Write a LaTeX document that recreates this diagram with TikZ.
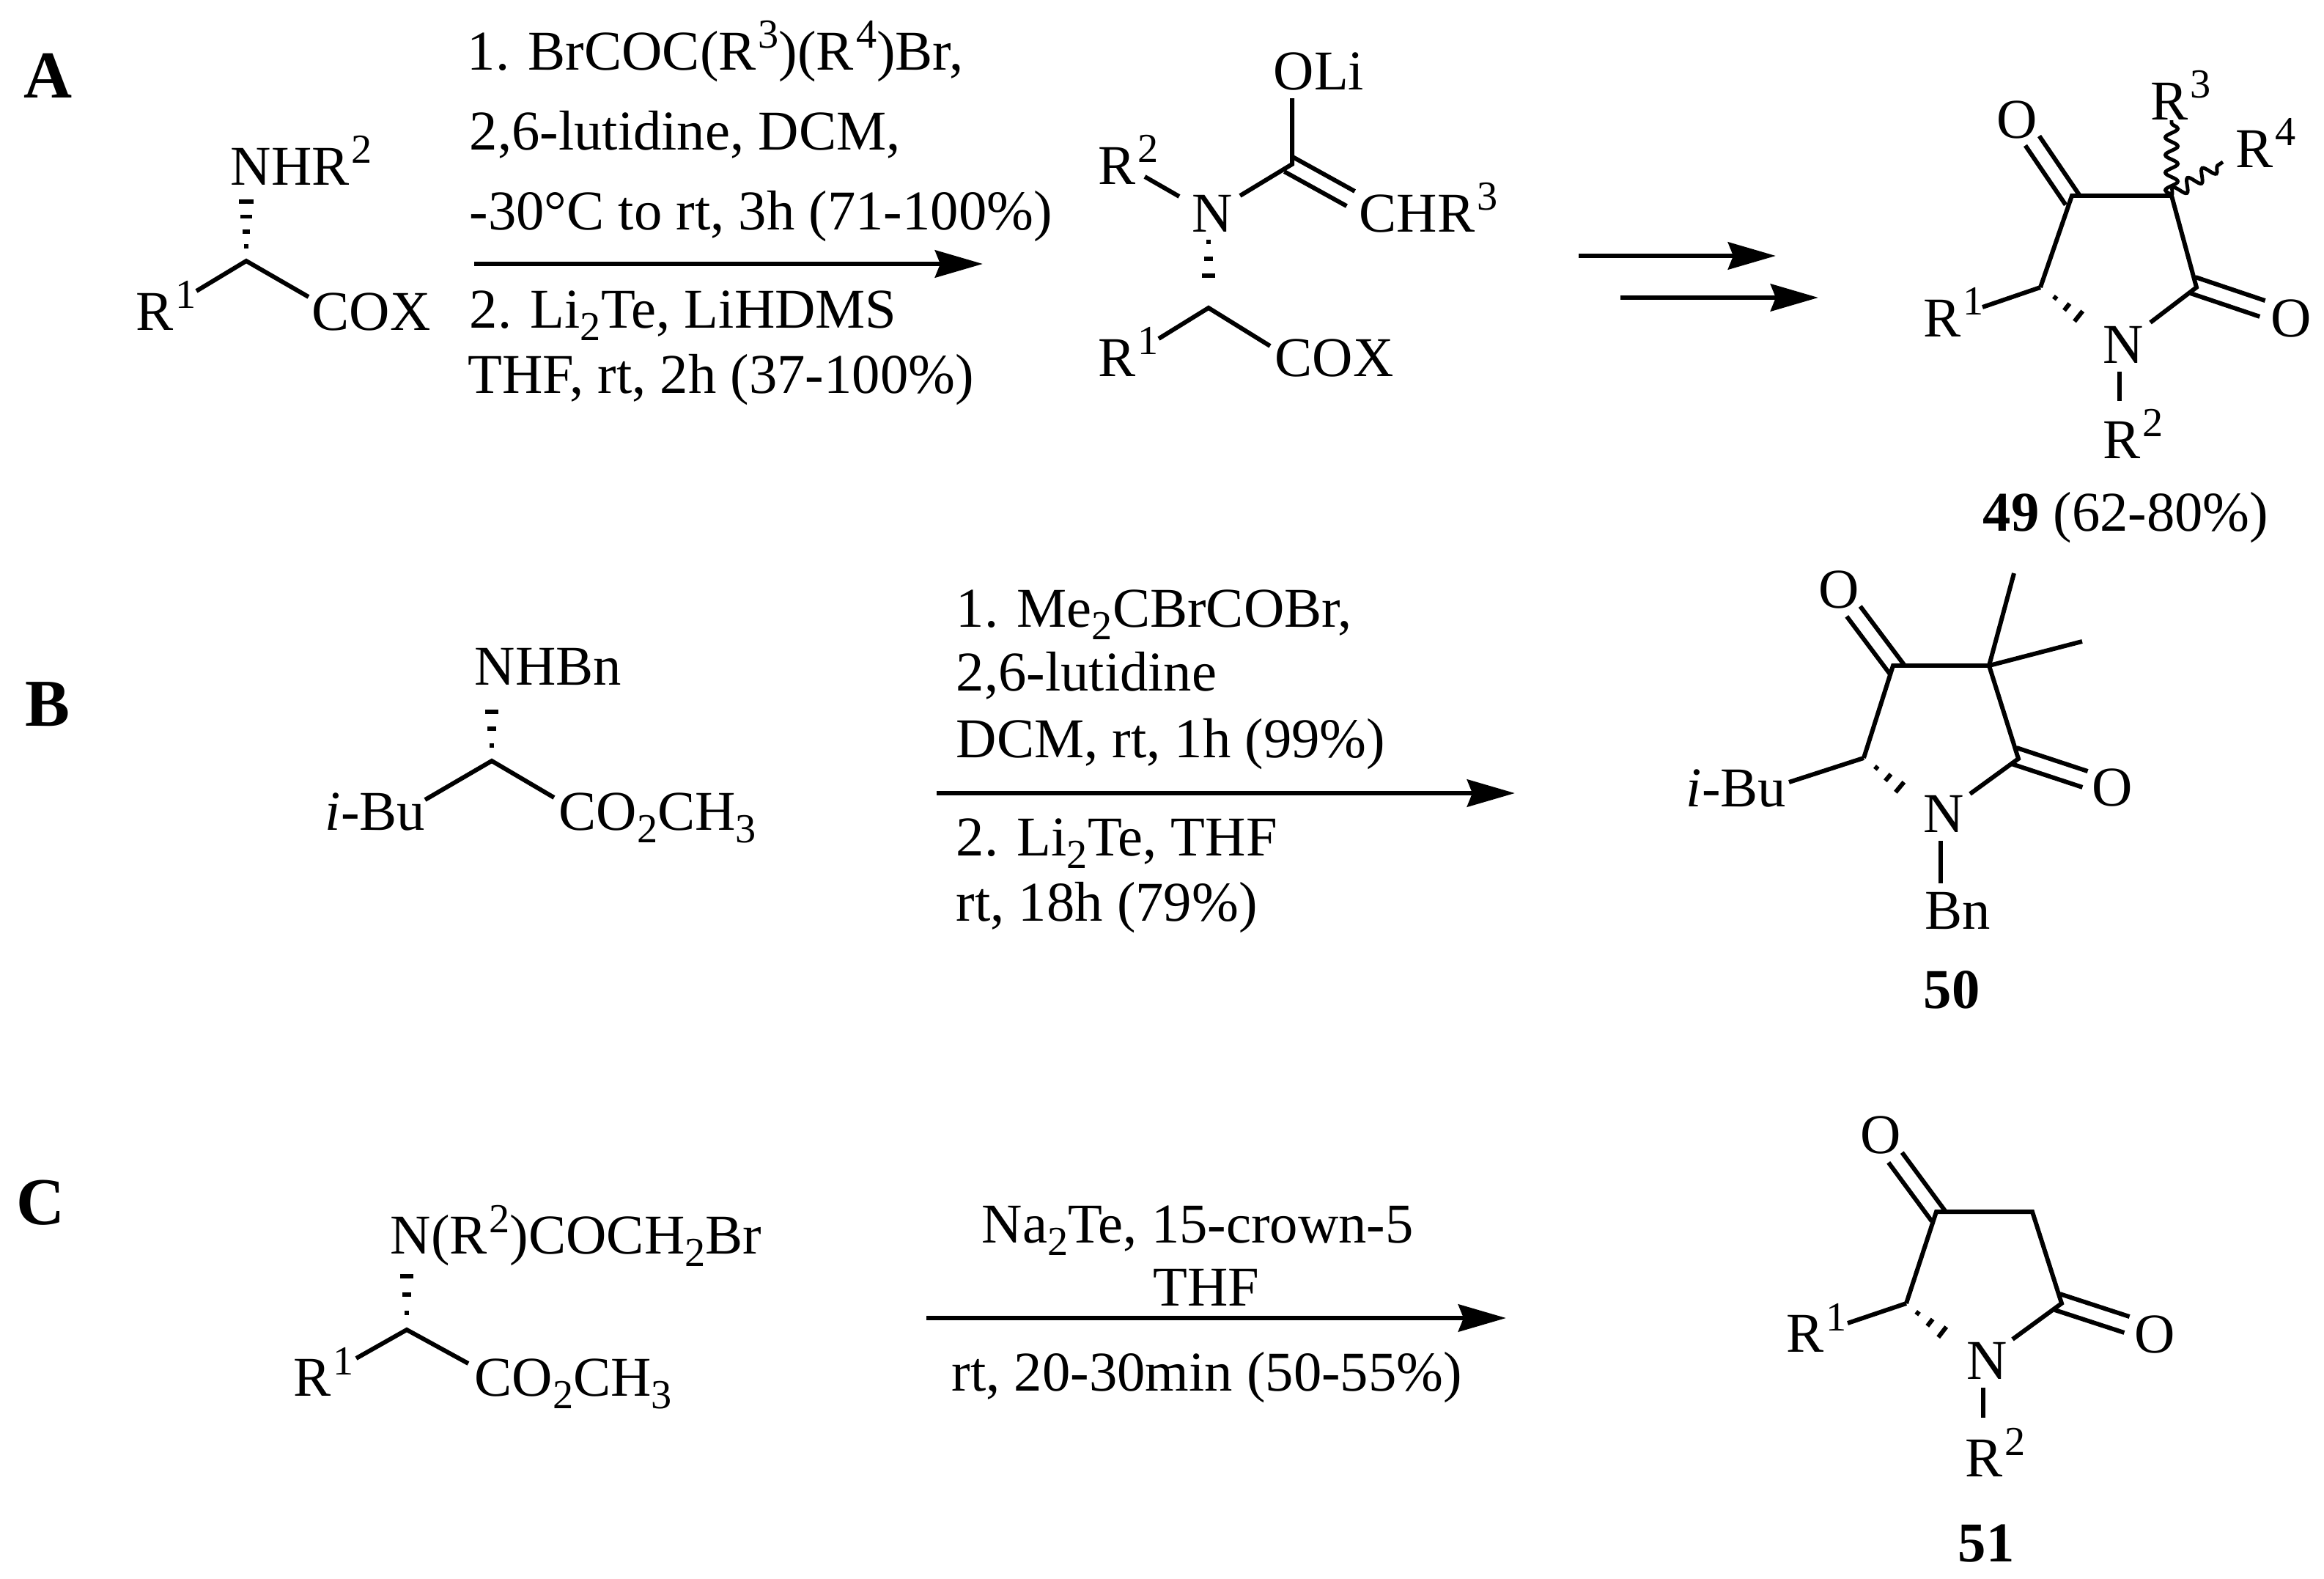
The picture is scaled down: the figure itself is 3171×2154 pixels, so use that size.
\documentclass[tikz,border=0pt]{standalone}
\usepackage{fontspec}
\setmainfont{Liberation Serif}
\usetikzlibrary{arrows.meta,calc,decorations.pathmorphing}

\newcommand{\sups}[1]{\kern0.03cm\raisebox{0.29cm}{\fontsize{16}{16}\selectfont #1}}
\newcommand{\subs}[1]{\raisebox{-0.17cm}{\fontsize{16}{16}\selectfont #1}}
\newcommand{\hashbond}[3][0.1,0.4,0.7,1]{%
  \foreach \t in {#1}{
    \draw[hashmark] ($(#2)!\t!(#3)!0.02cm+\t*0.1cm!90:(#3)$) -- ($(#2)!\t!(#3)!0.02cm+\t*0.1cm!-90:(#3)$);
  }}
\newcommand{\dblbond}[2]{%
  \draw[bond] ($(#1)!0.115cm!90:(#2)$) -- ($(#2)!0.115cm!-90:(#1)$);
  \draw[bond] ($(#1)!0.115cm!-90:(#2)$) -- ($(#2)!0.115cm!90:(#1)$);}

\tikzset{
  lab/.style={anchor=base west, inner sep=0pt, font=\fontsize{21.8}{26}\selectfont},
  tag/.style={anchor=base west, inner sep=0pt, font=\fontsize{26}{30}\selectfont\bfseries},
  bond/.style={line width=1.7pt},
  hashmark/.style={line width=1.7pt},
  wavybond/.style={line width=1.4pt, decorate, decoration={snake, segment length=0.24cm, amplitude=0.085cm, pre length=0pt, post length=0pt}},
  reactarrow/.style={line width=1.9pt, -{Stealth[length=0.65cm, width=0.37cm, inset=0.07cm]}}
}

\begin{document}
\begin{tikzpicture}[x=0.01cm, y=-0.01cm]

\useasboundingbox (0,0) rectangle (3171,2154);

% PANEL LETTERS %%%%%%%%%%%%%%%%%%%%%%%%%%%%%%%%%%%%%%%%%%%%%%%%%%%%%%%%%%%

\node[tag] (TA) at (32,133) {A};
\node[tag] (TB) at (34,990) {B};
\node[tag] (TC) at (22,1670) {C};

% A: AMINO ACID %%%%%%%%%%%%%%%%%%%%%%%%%%%%%%%%%%%%%%%%%%%%%%%%%%%%%%%%%%%

\node[lab] (NA1) at (314,252) {NHR\sups{2}};
\node[lab] (RA1) at (185,450) {R\sups{1}};
\node[lab] (XA1) at (425,450) {COX};
\coordinate (PA1) at (336,356);
\coordinate (PA2) at (268,397);
\coordinate (PA3) at (421,405);
\coordinate (PA4) at (336,345);
\coordinate (PA5) at (336,255);
\draw[bond] (PA2) -- (PA1) -- (PA3);
\hashbond[0.1,0.325,0.55,0.775,1]{PA4}{PA5}

% A: REAGENTS %%%%%%%%%%%%%%%%%%%%%%%%%%%%%%%%%%%%%%%%%%%%%%%%%%%%%%%%%%%%%

\node[lab] (GA1) at (637,95) {1. BrCOC(R\sups{3})(R\sups{4})Br,};
\node[lab] (GA2) at (640,204) {2,6-lutidine, DCM,};
\node[lab] (GA3) at (640,313) {-30°C to rt, 3h (71-100\%)};
\node[lab] (GA4) at (640,447) {2. Li\subs{2}Te, LiHDMS};
\node[lab] (GA5) at (638,536) {THF, rt, 2h (37-100\%)};
\coordinate (AA1) at (647,360);
\coordinate (AA2) at (1341,360);
\draw[reactarrow] (AA1) -- (AA2);

% A: ENOLATE %%%%%%%%%%%%%%%%%%%%%%%%%%%%%%%%%%%%%%%%%%%%%%%%%%%%%%%%%%%%%%

\node[lab] (OB1) at (1737,122) {OLi};
\node[lab] (RB2) at (1498,251) {R\sups{2}};
\node[lab] (NB1) at (1626,316) {N};
\node[lab] (XB2) at (1854,316) {CHR\sups{3}};
\node[lab] (RB1) at (1498,513) {R\sups{1}};
\node[lab] (XB1) at (1739,513) {COX};
\coordinate (PB1) at (1763,224);
\coordinate (PB2) at (1763,134);
\coordinate (PB3) at (1692,267);
\coordinate (PB4) at (1562,241);
\coordinate (PB5) at (1609,268);
\coordinate (PB6) at (1649,420);
\coordinate (PB7) at (1581,462);
\coordinate (PB8) at (1733,472);
\coordinate (PB9) at (1649,322);
\coordinate (PB10) at (1649,399);
\coordinate (PB11) at (1758,224);
\coordinate (PB12) at (1843,271);
\draw[bond] (PB2) -- (PB1) -- (PB3);
\draw[bond] (PB4) -- (PB5);
\draw[bond] (PB7) -- (PB6) -- (PB8);
\dblbond{PB11}{PB12}
\hashbond{PB9}{PB10}

\coordinate (AA3) at (2154,349);
\coordinate (AA4) at (2423,349);
\coordinate (AA5) at (2211,406);
\coordinate (AA6) at (2481,406);
\draw[reactarrow] (AA3) -- (AA4);
\draw[reactarrow] (AA5) -- (AA6);

% A: PRODUCT 49 %%%%%%%%%%%%%%%%%%%%%%%%%%%%%%%%%%%%%%%%%%%%%%%%%%%%%%%%%%%

\node[lab] (OC1) at (2724,188) {O};
\node[lab] (RC3) at (2934,163) {R\sups{3}};
\node[lab] (RC4) at (3050,228) {R\sups{4}};
\node[lab] (RC1) at (2624,459) {R\sups{1}};
\node[lab] (OC2) at (3098,459) {O};
\node[lab] (NC1) at (2869,495) {N};
\node[lab] (RC2) at (2869,625) {R\sups{2}};
\node[lab] (YC1) at (2705,724) {\textbf{49} (62-80\%)};
\coordinate (PC1) at (2827,267);
\coordinate (PC2) at (2963,267);
\coordinate (PC3) at (2997,392);
\coordinate (PC4) at (2784,392);
\coordinate (PC5) at (2705,419);
\coordinate (PC6) at (2934,440);
\coordinate (PC7) at (2892,507);
\coordinate (PC8) at (2892,547);
\coordinate (PC9) at (2963,164);
\coordinate (PC10) at (3033,221);
\coordinate (PC11) at (2799,402);
\coordinate (PC12) at (2852,444);
\coordinate (PC13) at (2828,273);
\coordinate (PC14) at (2773,192);
\coordinate (PC15) at (2992,389);
\coordinate (PC16) at (3087,421);
\draw[bond] (PC4) -- (PC1) -- (PC2) -- (PC3) -- (PC6);
\draw[bond] (PC4) -- (PC5);
\draw[bond] (PC7) -- (PC8);
\draw[wavybond] (PC2) -- (PC9);
\draw[wavybond] (PC2) -- (PC10);
\dblbond{PC13}{PC14}
\dblbond{PC15}{PC16}
\hashbond{PC11}{PC12}

% B: AMINO ESTER %%%%%%%%%%%%%%%%%%%%%%%%%%%%%%%%%%%%%%%%%%%%%%%%%%%%%%%%%%

\node[lab] (NG1) at (647,934) {NHBn};
\node[lab] (RG1) at (443,1132) {\textit{i}-Bu};
\node[lab] (XG1) at (762,1132) {CO\subs{2}CH\subs{3}};
\coordinate (PG1) at (671,1038);
\coordinate (PG2) at (580,1091);
\coordinate (PG3) at (756,1088);
\coordinate (PG4) at (671,1025);
\coordinate (PG5) at (671,948);
\draw[bond] (PG2) -- (PG1) -- (PG3);
\hashbond{PG4}{PG5}

% B: REAGENTS %%%%%%%%%%%%%%%%%%%%%%%%%%%%%%%%%%%%%%%%%%%%%%%%%%%%%%%%%%%%%

\node[lab] (GB1) at (1304,855) {1. Me\subs{2}CBrCOBr,};
\node[lab] (GB2) at (1304,942) {2,6-lutidine};
\node[lab] (GB3) at (1304,1033) {DCM, rt, 1h (99\%)};
\node[lab] (GB4) at (1304,1167) {2. Li\subs{2}Te, THF};
\node[lab] (GB5) at (1304,1256) {rt, 18h (79\%)};
\coordinate (AB1) at (1278,1082);
\coordinate (AB2) at (2067,1082);
\draw[reactarrow] (AB1) -- (AB2);

% B: PRODUCT 50 %%%%%%%%%%%%%%%%%%%%%%%%%%%%%%%%%%%%%%%%%%%%%%%%%%%%%%%%%%%

\node[lab] (OH1) at (2481,829) {O};
\node[lab] (RH1) at (2300,1100) {\textit{i}-Bu};
\node[lab] (OH2) at (2854,1099) {O};
\node[lab] (NH1) at (2624,1135) {N};
\node[lab] (RH2) at (2626,1267) {Bn};
\node[lab] (YH1) at (2624,1375) {\textbf{50}};
\coordinate (PH1) at (2583,908);
\coordinate (PH2) at (2714,908);
\coordinate (PH3) at (2754,1035);
\coordinate (PH4) at (2543,1034);
\coordinate (PH5) at (2441,1067);
\coordinate (PH6) at (2688,1083);
\coordinate (PH7) at (2648,1147);
\coordinate (PH8) at (2648,1205);
\coordinate (PH9) at (2748,782);
\coordinate (PH10) at (2841,875);
\coordinate (PH11) at (2555,1043);
\coordinate (PH12) at (2608,1087);
\coordinate (PH13) at (2589,914);
\coordinate (PH14) at (2529,834);
\coordinate (PH15) at (2748,1031);
\coordinate (PH16) at (2845,1063);
\draw[bond] (PH4) -- (PH1) -- (PH2) -- (PH3) -- (PH6);
\draw[bond] (PH4) -- (PH5);
\draw[bond] (PH7) -- (PH8);
\draw[bond] (PH2) -- (PH9);
\draw[bond] (PH2) -- (PH10);
\dblbond{PH13}{PH14}
\dblbond{PH15}{PH16}
\hashbond{PH11}{PH12}

% C: BROMOACETAMIDE %%%%%%%%%%%%%%%%%%%%%%%%%%%%%%%%%%%%%%%%%%%%%%%%%%%%%%%

\node[lab] (NK1) at (532,1710) {N(R\sups{2})COCH\subs{2}Br};
\node[lab] (RK1) at (400,1904) {R\sups{1}};
\node[lab] (XK1) at (647,1904) {CO\subs{2}CH\subs{3}};
\coordinate (PK1) at (555,1814);
\coordinate (PK2) at (486,1853);
\coordinate (PK3) at (639,1860);
\coordinate (PK4) at (555,1799);
\coordinate (PK5) at (555,1716);
\draw[bond] (PK2) -- (PK1) -- (PK3);
\hashbond{PK4}{PK5}

% C: REAGENTS %%%%%%%%%%%%%%%%%%%%%%%%%%%%%%%%%%%%%%%%%%%%%%%%%%%%%%%%%%%%%

\node[lab] (GC1) at (1339,1695) {Na\subs{2}Te, 15-crown-5};
\node[lab] (GC2) at (1573,1781) {THF};
\node[lab] (GC3) at (1298,1897) {rt, 20-30min (50-55\%)};
\coordinate (AC1) at (1264,1798);
\coordinate (AC2) at (2055,1798);
\draw[reactarrow] (AC1) -- (AC2);

% C: PRODUCT 51 %%%%%%%%%%%%%%%%%%%%%%%%%%%%%%%%%%%%%%%%%%%%%%%%%%%%%%%%%%%

\node[lab] (OM1) at (2538,1573) {O};
\node[lab] (RM1) at (2437,1844) {R\sups{1}};
\node[lab] (OM2) at (2912,1845) {O};
\node[lab] (NM1) at (2683,1881) {N};
\node[lab] (RM2) at (2681,2014) {R\sups{2}};
\node[lab] (YM1) at (2671,2130) {\textbf{51}};
\coordinate (PM1) at (2642,1653);
\coordinate (PM2) at (2773,1653);
\coordinate (PM3) at (2813,1778);
\coordinate (PM4) at (2601,1778);
\coordinate (PM5) at (2521,1805);
\coordinate (PM6) at (2746,1827);
\coordinate (PM7) at (2706,1893);
\coordinate (PM8) at (2706,1934);
\coordinate (PM9) at (2611,1787);
\coordinate (PM10) at (2667,1830);
\coordinate (PM11) at (2645,1659);
\coordinate (PM12) at (2586,1579);
\coordinate (PM13) at (2807,1776);
\coordinate (PM14) at (2902,1807);
\draw[bond] (PM4) -- (PM1) -- (PM2) -- (PM3) -- (PM6);
\draw[bond] (PM4) -- (PM5);
\draw[bond] (PM7) -- (PM8);
\dblbond{PM11}{PM12}
\dblbond{PM13}{PM14}
\hashbond{PM9}{PM10}

\end{tikzpicture}
\end{document}
